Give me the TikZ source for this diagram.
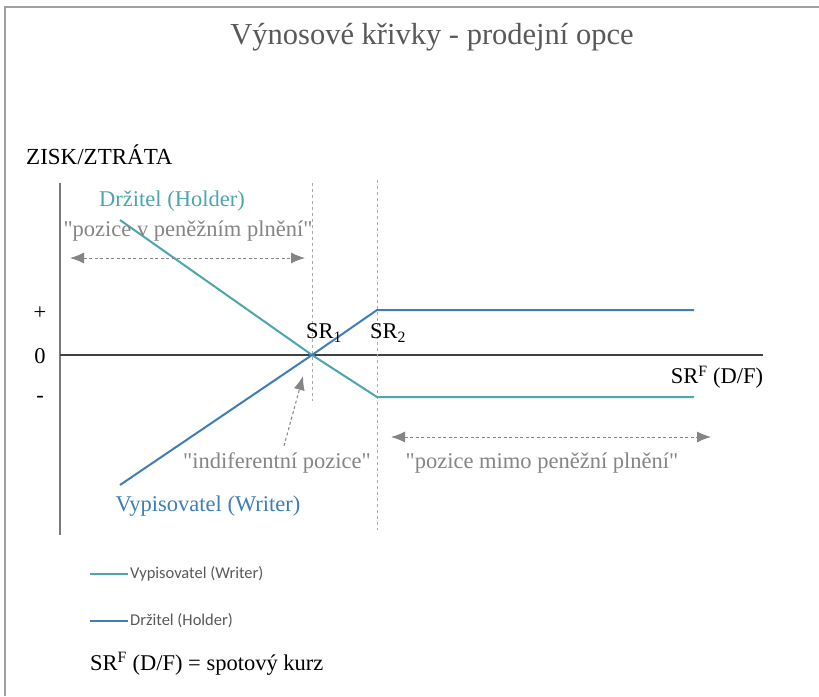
\documentclass[tikz,border=0pt]{standalone}
\usepackage{fontspec}
\setmainfont{Liberation Serif}
\newfontfamily\legendfont{Carlito}
\usetikzlibrary{arrows.meta}
\definecolor{tealc}{HTML}{4CA6AB}
\definecolor{bluec}{HTML}{3E7EB8}
\definecolor{graytxt}{HTML}{858585}
\definecolor{titlec}{HTML}{595959}
\definecolor{framec}{HTML}{A0A0A0}
\definecolor{axisc}{HTML}{7A7A7A}
\definecolor{dashc}{HTML}{A8A8A8}
\definecolor{legtxt}{HTML}{595959}
\newcommand{\qq}{\textquotedbl}
\tikzset{
  lbl/.style={inner sep=0pt, font=\fontsize{22.5}{26}\selectfont},
  graylbl/.style={lbl, text=graytxt},
  curveH/.style={draw=tealc, line width=2pt},
  curveW/.style={draw=bluec, line width=2pt},
  guide/.style={draw=dashc, line width=1pt, dash pattern=on 3pt off 3pt},
  tipA/.tip={Latex[length=14pt,width=11pt,fill=graytxt]},
  rangearrow/.style={draw=graytxt, line width=1pt, dash pattern=on 3pt off 2.5pt, tipA-tipA},
  pointarrow/.style={draw=graytxt, line width=1pt, dash pattern=on 3pt off 2.5pt, -tipA},
  legtext/.style={inner sep=0pt, anchor=west, text=legtxt, font=\legendfont\fontsize{16.5}{19}\selectfont}
}
\begin{document}
\begin{tikzpicture}[x=1pt,y=-1pt]
\useasboundingbox (0,0) rectangle (819,696);
\fill[white] (0,0) rectangle (819,696);
% frame
\draw[framec, line width=2pt] (5,696) -- (5,7) -- (819,7);
% title
\node[inner sep=0pt, text=titlec, font=\fontsize{30.5}{36}\selectfont] (title) at (432,37) {Výnosové křivky - prodejní opce};
\node[lbl, anchor=west, font=\fontsize{23}{27}\selectfont] (zisk) at (26,155) {ZISK/ZTRÁTA};
% axes
\coordinate (ytop) at (60,183);
\coordinate (ybot) at (60,535);
\coordinate (o) at (60,355);
\coordinate (xend) at (763,355);
\draw[axisc, line width=1.5pt] (ytop) -- (ybot);
\draw[black!75, line width=1.5pt] (o) -- (xend);
\node[lbl] (plus) at (40,313) {+};
\node[lbl] (zero) at (40,356) {0};
\node[lbl] (minus) at (40,399) {-};
% guides
\coordinate (g1t) at (312,183);
\coordinate (g1b) at (312,401);
\coordinate (g2t) at (377,180);
\coordinate (g2b) at (377,530);
\draw[guide] (g1t) -- (g1b);
\draw[guide] (g2t) -- (g2b);
% curves
\coordinate (h0) at (120,220);
\coordinate (x1) at (312,355);
\coordinate (h2) at (377,397);
\coordinate (h3) at (694,397);
\coordinate (w0) at (120,485);
\coordinate (w2) at (377,310);
\coordinate (w3) at (694,310);
\draw[curveH] (h0) -- (x1) -- (h2) -- (h3);
\draw[curveW] (w0) -- (x1) -- (w2) -- (w3);
% labels
\node[lbl, text=tealc] (holder) at (172,201) {Držitel (Holder)};
\node[graylbl] (inmoney) at (188,231) {\qq pozice v peněžním plnění\qq};
\coordinate (a1l) at (70,258);
\coordinate (a1r) at (305,258);
\draw[rangearrow] (a1l) -- (a1r);
\node[lbl] (sr1) at (324,333) {SR\textsubscript{1}};
\node[lbl] (sr2) at (388,333) {SR\textsubscript{2}};
\node[lbl] (srf) at (717,377) {SR\textsuperscript{F} (D/F)};
\node[graylbl] (indif) at (277,463) {\qq indiferentní pozice\qq};
\coordinate (ptail) at (284,446);
\coordinate (ptip) at (303,376);
\draw[pointarrow] (ptail) -- (ptip);
\node[graylbl] (outmoney) at (542,463) {\qq pozice mimo peněžní plnění\qq};
\coordinate (a2l) at (391,437);
\coordinate (a2r) at (711,437);
\draw[rangearrow] (a2l) -- (a2r);
\node[lbl, text=bluec] (writer) at (208,506) {Vypisovatel (Writer)};
% legend
\coordinate (l1a) at (90,574);
\coordinate (l1b) at (128,574);
\draw[curveH, line width=1.8pt] (l1a) -- (l1b);
\node[legtext] (leg1) at (130,574) {Vypisovatel (Writer)};
\coordinate (l2a) at (90,621);
\coordinate (l2b) at (128,621);
\draw[curveW, line width=1.8pt] (l2a) -- (l2b);
\node[legtext] (leg2) at (130,621) {Držitel (Holder)};
\node[lbl, anchor=west] (note) at (90,664) {SR\textsuperscript{F} (D/F) = spotový kurz};
\end{tikzpicture}
\end{document}
